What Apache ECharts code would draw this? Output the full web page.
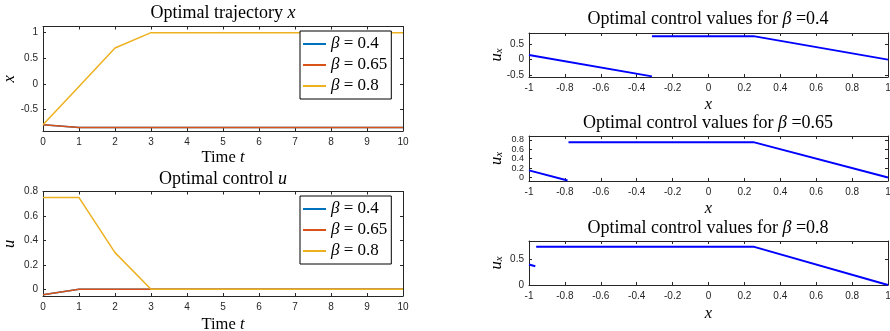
<!DOCTYPE html>
<html>
<head>
<meta charset="utf-8">
<script src="https://cdn.jsdelivr.net/npm/echarts@6/dist/echarts.min.js"></script>
<style>
  html, body { margin: 0; background: #fff; }
  #chart { width: 890px; height: 331px; }
</style>
</head>
<body>
<div id="chart"></div>
<script>
// left column: trajectory and control over time
const timeSteps = [0, 1, 2, 3, 4, 5, 6, 7, 8, 9, 10];
const betaNames = ['β = 0.4', 'β = 0.65', 'β = 0.8'];
const traj04 = [-0.8, -0.85, -0.85, -0.85, -0.85, -0.85, -0.85, -0.85, -0.85, -0.85, -0.85];
const traj065 = [-0.8, -0.85, -0.85, -0.85, -0.85, -0.85, -0.85, -0.85, -0.85, -0.85, -0.85];
const traj08 = [-0.8, -0.05, 0.7, 1, 1, 1, 1, 1, 1, 1, 1];
const ctrl04 = [-0.045, 0, 0, 0, 0, 0, 0, 0, 0, 0, 0];
const ctrl065 = [-0.045, 0, 0, 0, 0, 0, 0, 0, 0, 0, 0];
const ctrl08 = [0.75, 0.75, 0.3, 0, 0, 0, 0, 0, 0, 0, 0];

// right column: control values u_x over the state x, two pieces each
const ux04Left = [[-1, 0.15], [-0.315, -0.535]];
const ux04Right = [[-0.315, 0.75], [0.25, 0.75], [1, 0]];
const ux065Left = [[-1, 0.15], [-0.785, -0.065]];
const ux065Right = [[-0.78, 0.75], [0.25, 0.75], [1, 0]];
const ux08Left = [[-1, 0.4], [-0.965, 0.365]];
const ux08Right = [[-0.96, 0.75], [0.25, 0.75], [1, 0]];

// tick labels
const timeTicks = [0, 1, 2, 3, 4, 5, 6, 7, 8, 9, 10];
const trajTicks = [-0.5, 0, 0.5, 1];
const ctrlTicks = [0, 0.2, 0.4, 0.6, 0.8];
const stateTicks = [-1, -0.8, -0.6, -0.4, -0.2, 0, 0.2, 0.4, 0.6, 0.8, 1];
const ux04Ticks = [-0.5, 0, 0.5];
const ux065Ticks = [0, 0.2, 0.4, 0.6, 0.8];
const ux08Ticks = [0, 0.5];

const colors = ['#0072BD', '#D95319', '#EDB120'];
const axisColor = '#262626';
const serif = 'Liberation Serif';

function richSet(size) {
  return {
    n: { fontFamily: serif, fontSize: size, fontWeight: 'normal', color: '#000' },
    i: { fontFamily: serif, fontSize: size, fontWeight: 'normal', fontStyle: 'italic', color: '#000' },
    s: { fontFamily: serif, fontSize: 11, fontWeight: 'normal', fontStyle: 'italic', color: '#000', verticalAlign: 'bottom', lineHeight: size }
  };
}
const labelRich = richSet(16.5);
const titleRich = richSet(18);

const grids = [
  { left: 43, top: 26.5, width: 360, height: 104.5 },
  { left: 43, top: 191.5, width: 360, height: 104.5 },
  { left: 529, top: 33, width: 359, height: 44 },
  { left: 529, top: 136, width: 359, height: 45 },
  { left: 529, top: 241, width: 359, height: 44 }
].map((g) => Object.assign({ outerBoundsMode: 'none', containLabel: false }, g));

const xAxes = [];
const yAxes = [];

function addAxes(g, xr, xt, xName, xGap, yr, yt, yName, yGap, ySize) {
  const tick = (vals) => ({ inside: true, length: 3, customValues: vals, lineStyle: { color: axisColor } });
  const line = { onZero: false, lineStyle: { color: axisColor, width: 1 } };
  xAxes.push({
    gridIndex: g, type: 'value', min: xr[0], max: xr[1], position: 'bottom',
    axisLine: line, axisTick: tick(xt), splitLine: { show: false },
    axisLabel: { customValues: xt, margin: 6, showMinLabel: true, showMaxLabel: true, hideOverlap: false,
      fontFamily: 'Liberation Sans', fontSize: 10, color: axisColor },
    name: xName, nameLocation: 'middle', nameGap: xGap, nameTextStyle: { rich: labelRich }
  });
  xAxes.push({
    gridIndex: g, type: 'value', min: xr[0], max: xr[1], position: 'top',
    axisLine: line, axisTick: tick(xt), axisLabel: { show: false }, splitLine: { show: false }
  });
  yAxes.push({
    gridIndex: g, type: 'value', min: yr[0], max: yr[1], position: 'left',
    axisLine: line, axisTick: tick(yt), splitLine: { show: false },
    axisLabel: { customValues: yt, margin: 5, showMinLabel: true, showMaxLabel: true, hideOverlap: false,
      fontFamily: 'Liberation Sans', fontSize: ySize, lineHeight: ySize, color: axisColor },
    name: yName, nameLocation: 'middle', nameGap: yGap, nameRotate: 90, nameMoveOverlap: false,
    nameTextStyle: { rich: labelRich }
  });
  yAxes.push({
    gridIndex: g, type: 'value', min: yr[0], max: yr[1], position: 'right',
    axisLine: line, axisTick: tick(yt), axisLabel: { show: false }, splitLine: { show: false }
  });
}

addAxes(0, [0, 10], timeTicks, '{n|Time }{i|t}', 18, [-0.92, 1.12], trajTicks, '{i|x}', 25, 10);
addAxes(1, [0, 10], timeTicks, '{n|Time }{i|t}', 20, [-0.055, 0.8], ctrlTicks, '{i|u}', 25, 10);
addAxes(2, [-1, 1], stateTicks, '{i|x}', 19, [-0.555, 0.85], ux04Ticks, '{i|u}{s|x}', 24, 10);
addAxes(3, [-1, 1], stateTicks, '{i|x}', 19, [-0.075, 0.88], ux065Ticks, '{i|u}{s|x}', 24, 9);
addAxes(4, [-1, 1], stateTicks, '{i|x}', 20, [0, 0.86], ux08Ticks, '{i|u}{s|x}', 24, 10);

function timeSeries(g, name, vals, color) {
  return {
    type: 'line', name: name, xAxisIndex: g * 2, yAxisIndex: g * 2,
    data: timeSteps.map((t, k) => [t, vals[k]]),
    symbol: 'none', lineStyle: { color: color, width: 1.5 }, itemStyle: { color: color }
  };
}
function uxSeries(g, pts) {
  return {
    type: 'line', xAxisIndex: g * 2, yAxisIndex: g * 2, data: pts,
    symbol: 'none', lineStyle: { color: '#0000FF', width: 2 }
  };
}

const series = [
  timeSeries(0, betaNames[0], traj04, colors[0]),
  timeSeries(0, betaNames[1], traj065, colors[1]),
  timeSeries(0, betaNames[2], traj08, colors[2]),
  timeSeries(1, betaNames[0], ctrl04, colors[0]),
  timeSeries(1, betaNames[1], ctrl065, colors[1]),
  timeSeries(1, betaNames[2], ctrl08, colors[2]),
  uxSeries(2, ux04Left), uxSeries(2, ux04Right),
  uxSeries(3, ux065Left), uxSeries(3, ux065Right),
  uxSeries(4, ux08Left), uxSeries(4, ux08Right)
];

function legendAt(top) {
  return {
    data: betaNames, left: 300, top: top, orient: 'vertical',
    backgroundColor: '#fff', borderColor: '#000', borderWidth: 1,
    padding: [3, 4, 3, 3], itemGap: 1, itemWidth: 23, itemHeight: 2, icon: 'rect',
    selectedMode: false,
    formatter: (name) => name.replace('β', '{b|β}'),
    textStyle: {
      fontFamily: serif, fontSize: 17, color: '#000', lineHeight: 20,
      rich: { b: { fontFamily: serif, fontSize: 17, fontStyle: 'italic', lineHeight: 20 } }
    }
  };
}

function titleAt(x, y, text) {
  return { text: text, left: x, top: y, textAlign: 'center', textVerticalAlign: 'middle', padding: 0,
    textStyle: { fontWeight: 'normal', rich: titleRich } };
}

const chart = echarts.init(document.getElementById('chart'));
chart.setOption({
  animation: false,
  title: [
    titleAt(223, 13, '{n|Optimal trajectory }{i|x}'),
    titleAt(223, 179, '{n|Optimal control }{i|u}'),
    titleAt(708, 19, '{n|Optimal control values for }{i|β}{n| =0.4}'),
    titleAt(708, 123, '{n|Optimal control values for }{i|β}{n| =0.65}'),
    titleAt(708, 228, '{n|Optimal control values for }{i|β}{n| =0.8}')
  ],
  legend: [legendAt(31), legendAt(196)],
  grid: grids,
  xAxis: xAxes,
  yAxis: yAxes,
  series: series
});
</script>
</body>
</html>
